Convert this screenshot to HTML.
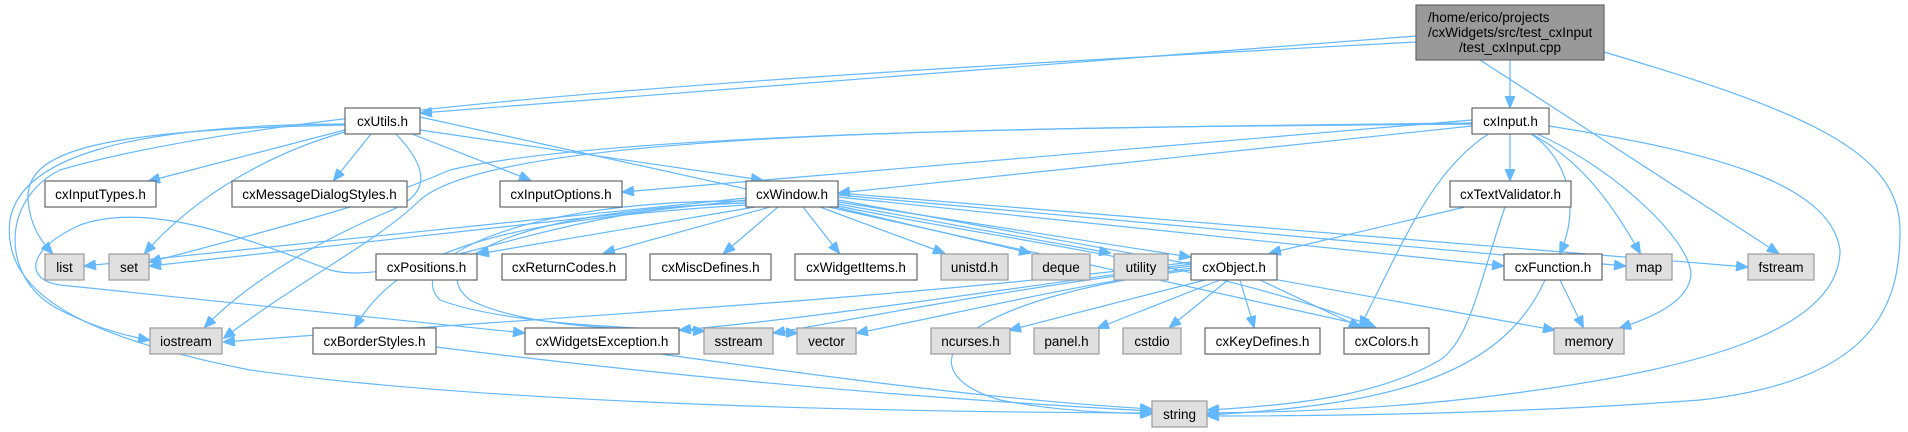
<!DOCTYPE html>
<html><head><meta charset="utf-8"><style>
html,body{margin:0;padding:0;background:#fff;}
svg{display:block;}
text{font-family:"Liberation Sans",Arial,sans-serif;font-size:13.5px;fill:#000;}
.e{fill:none;stroke:#63b8ff;stroke-width:1.2;}
.w{fill:#fff;stroke:#666;stroke-width:1.2;}
.g{fill:#e0e0e0;stroke:#999;stroke-width:1.2;}
</style></head><body>
<svg width="1908" height="432" viewBox="0 0 1908 432" xmlns="http://www.w3.org/2000/svg">
<defs><marker id="a" markerWidth="12" markerHeight="10" refX="11" refY="5" orient="auto" markerUnits="userSpaceOnUse"><path d="M0,0 L12,5 L0,10 z" fill="#63b8ff" stroke="#63b8ff"/></marker></defs>
<g marker-end="url(#a)">
<!-- root -->
<path class="e" d="M1510,60 L1510,107"/>
<path class="e" d="M1416,36 L421,113"/>
<path class="e" d="M1416,42 C900,70 300,100 60,170 C0,200 0,280 60,310 C90,325 120,335 149,340"/>
<path class="e" d="M1480,60 L1778,253"/>
<path class="e" d="M1604,52 C1800,110 1900,150 1900,230 C1900,300 1880,380 1700,400 C1500,415 1300,416 1208,416"/>
<!-- cxUtils -->
<path class="e" d="M345,130 L149,181"/>
<path class="e" d="M371,134 L334,180"/>
<path class="e" d="M412,134 L530,180"/>
<path class="e" d="M420,130 L762,180"/>
<path class="e" d="M420,117 L1372,327"/>
<path class="e" d="M345,125 C100,130 25,150 28,200 C30,225 40,240 52,253"/>
<path class="e" d="M345,132 C280,150 200,190 145,253"/>
<path class="e" d="M396,134 C440,180 420,200 380,215 C300,250 240,290 205,327"/>
<path class="e" d="M345,124 C120,125 20,160 10,220 C0,300 100,340 250,370 C500,405 900,412 1151,413"/>
<!-- cxInput -->
<path class="e" d="M1510,133 L1510,180"/>
<path class="e" d="M1472,126 L839,193"/>
<path class="e" d="M1472,120 L623,192"/>
<path class="e" d="M1472,123 C1000,128 600,135 450,170 C380,200 330,215 150,262"/>
<path class="e" d="M1472,124 C1000,128 500,130 420,200 C380,240 300,280 224,338"/>
<path class="e" d="M1490,133 C1430,170 1400,250 1360,327"/>
<path class="e" d="M1530,133 C1570,160 1580,210 1560,253"/>
<path class="e" d="M1530,133 C1580,160 1610,200 1640,253"/>
<path class="e" d="M1535,133 C1620,170 1700,250 1690,280 C1685,300 1660,315 1620,328"/>
<path class="e" d="M1549,126 C1700,150 1830,180 1840,250 C1840,330 1700,370 1500,395 C1400,408 1300,412 1208,413"/>
<!-- cxTextValidator -->
<path class="e" d="M1465,207 L1270,253"/>
<path class="e" d="M1505,207 C1480,280 1470,340 1440,360 C1380,395 1300,405 1208,410"/>
<!-- cxWindow -->
<path class="e" d="M746,198 L85,266"/>
<path class="e" d="M746,200 L150,266"/>
<path class="e" d="M755,207 L478,254"/>
<path class="e" d="M770,207 L604,253"/>
<path class="e" d="M778,207 L724,253"/>
<path class="e" d="M803,207 L839,253"/>
<path class="e" d="M820,207 L944,253"/>
<path class="e" d="M835,207 L1030,253"/>
<path class="e" d="M838,204 L1110,253"/>
<path class="e" d="M838,202 L1190,257"/>
<path class="e" d="M838,200 L1554,330"/>
<path class="e" d="M838,197 L1503,266"/>
<path class="e" d="M838,195 L1625,266"/>
<path class="e" d="M838,193 L1747,267"/>
<path class="e" d="M838,206 C1000,240 1200,260 1375,327"/>
<path class="e" d="M746,205 C500,220 400,250 355,327"/>
<path class="e" d="M746,203 C520,210 420,260 470,300 C530,330 650,330 704,331"/>
<path class="e" d="M746,201 C520,200 400,260 440,300 C520,330 700,330 797,333"/>
<path class="e" d="M746,203 C560,205 400,290 330,270 C250,240 150,200 80,225 C25,250 25,280 60,285 L524,333"/>
<!-- cxObject -->
<path class="e" d="M1191,262 C900,300 500,320 224,342"/>
<path class="e" d="M1191,264 C1000,290 800,320 680,330"/>
<path class="e" d="M1191,266 C1000,290 850,320 774,333"/>
<path class="e" d="M1191,268 C1050,290 950,315 857,333"/>
<path class="e" d="M1205,280 L1010,330"/>
<path class="e" d="M1220,280 L1098,328"/>
<path class="e" d="M1228,280 L1170,327"/>
<path class="e" d="M1240,280 L1254,327"/>
<path class="e" d="M1260,280 L1360,327"/>
<path class="e" d="M1191,270 C950,300 900,370 1000,400 C1060,412 1120,413 1151,414"/>
<!-- cxFunction -->
<path class="e" d="M1560,280 L1583,327"/>
<path class="e" d="M1545,280 C1500,380 1380,405 1208,415"/>
<!-- leaves to string -->
<path class="e" d="M436,347 C700,380 950,400 1151,411"/>
<path class="e" d="M660,354 C850,380 1000,400 1151,409"/>
</g>
<!-- nodes -->
<rect x="1416" y="5" width="188" height="55" fill="#999" stroke="#666" stroke-width="1.2"/>
<text x="1428" y="22">/home/erico/projects</text>
<text x="1428" y="37">/cxWidgets/src/test_cxInput</text>
<text x="1510" y="52" text-anchor="middle">/test_cxInput.cpp</text>
<g text-anchor="middle">
<rect class="w" x="345" y="108" width="75" height="26"/><text x="382.5" y="126">cxUtils.h</text>
<rect class="w" x="1472" y="108" width="77" height="26"/><text x="1510.5" y="126">cxInput.h</text>
<rect class="w" x="45" y="181" width="111" height="26"/><text x="100.5" y="199">cxInputTypes.h</text>
<rect class="w" x="232" y="181" width="175" height="26"/><text x="319.5" y="199">cxMessageDialogStyles.h</text>
<rect class="w" x="500" y="181" width="122" height="26"/><text x="561" y="199">cxInputOptions.h</text>
<rect class="w" x="746" y="181" width="92" height="26"/><text x="792" y="199">cxWindow.h</text>
<rect class="w" x="1450" y="181" width="121" height="26"/><text x="1510.5" y="199">cxTextValidator.h</text>
<rect class="g" x="45" y="254" width="39" height="26"/><text x="64.5" y="272">list</text>
<rect class="g" x="109" y="254" width="40" height="26"/><text x="129" y="272">set</text>
<rect class="w" x="376" y="254" width="101" height="26"/><text x="426.5" y="272">cxPositions.h</text>
<rect class="w" x="502" y="254" width="124" height="26"/><text x="564" y="272">cxReturnCodes.h</text>
<rect class="w" x="650" y="254" width="121" height="26"/><text x="710.5" y="272">cxMiscDefines.h</text>
<rect class="w" x="795" y="254" width="122" height="26"/><text x="856" y="272">cxWidgetItems.h</text>
<rect class="g" x="941" y="254" width="67" height="26"/><text x="974.5" y="272">unistd.h</text>
<rect class="g" x="1032" y="254" width="58" height="26"/><text x="1061" y="272">deque</text>
<rect class="g" x="1114" y="254" width="54" height="26"/><text x="1141" y="272">utility</text>
<rect class="w" x="1191" y="254" width="86" height="26"/><text x="1234" y="272">cxObject.h</text>
<rect class="w" x="1504" y="254" width="98" height="26"/><text x="1553" y="272">cxFunction.h</text>
<rect class="g" x="1626" y="254" width="46" height="26"/><text x="1649" y="272">map</text>
<rect class="g" x="1748" y="254" width="66" height="26"/><text x="1781" y="272">fstream</text>
<rect class="g" x="150" y="328" width="72" height="26"/><text x="186" y="346">iostream</text>
<rect class="w" x="313" y="328" width="123" height="26"/><text x="374.5" y="346">cxBorderStyles.h</text>
<rect class="w" x="525" y="328" width="154" height="26"/><text x="602" y="346">cxWidgetsException.h</text>
<rect class="g" x="704" y="328" width="69" height="26"/><text x="738.5" y="346">sstream</text>
<rect class="g" x="797" y="328" width="59" height="26"/><text x="826.5" y="346">vector</text>
<rect class="g" x="931" y="328" width="79" height="26"/><text x="970.5" y="346">ncurses.h</text>
<rect class="g" x="1034" y="328" width="65" height="26"/><text x="1066.5" y="346">panel.h</text>
<rect class="g" x="1123" y="328" width="58" height="26"/><text x="1152" y="346">cstdio</text>
<rect class="w" x="1205" y="328" width="115" height="26"/><text x="1262.5" y="346">cxKeyDefines.h</text>
<rect class="w" x="1344" y="328" width="85" height="26"/><text x="1386.5" y="346">cxColors.h</text>
<rect class="g" x="1554" y="328" width="70" height="26"/><text x="1589" y="346">memory</text>
<rect class="g" x="1152" y="401" width="55" height="26"/><text x="1179.5" y="419">string</text>
</g>
</svg>
</body></html>
